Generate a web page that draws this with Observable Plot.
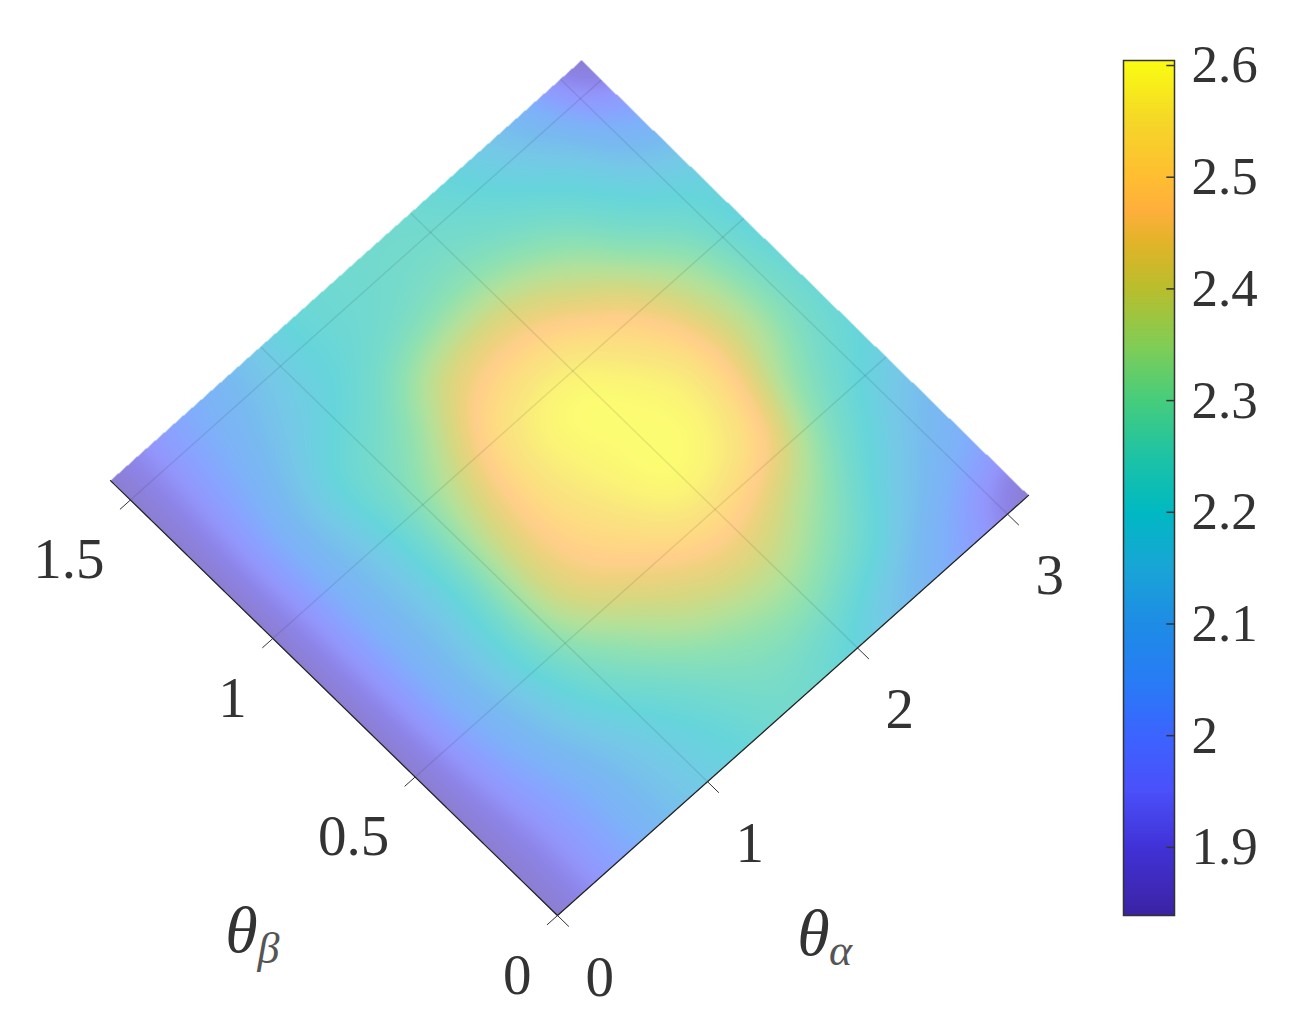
<!DOCTYPE html>
<html><head><meta charset="utf-8">
<style>html,body{margin:0;background:#fff}#c{position:relative;width:1304px;height:1032px;overflow:hidden}#c>svg,#c>div{position:absolute;top:0}svg text{font-family:"Liberation Serif",serif}</style>
<script src="https://cdn.jsdelivr.net/npm/d3@7"></script>
<script src="https://cdn.jsdelivr.net/npm/@observablehq/plot@0.6"></script>
</head><body><div id="c"></div>
<script>
// heat values, one row per theta_beta step (pi/16), one column per theta_alpha step (pi/8)
const row0=[1.86,2.00,2.12,2.19,2.24,2.20,2.11,2.00,1.86];
const row1=[1.86,2.00,2.13,2.22,2.29,2.31,2.24,2.12,2.03];
const row2=[1.86,2.03,2.18,2.30,2.40,2.44,2.36,2.22,2.12];
const row3=[1.86,2.05,2.21,2.40,2.50,2.58,2.52,2.30,2.20];
const row4=[1.86,2.05,2.20,2.41,2.55,2.60,2.56,2.37,2.22];
const row5=[1.86,2.05,2.20,2.37,2.54,2.58,2.49,2.34,2.20];
const row6=[1.86,2.05,2.20,2.28,2.42,2.44,2.36,2.24,2.17];
const row7=[1.86,2.02,2.14,2.21,2.26,2.28,2.24,2.16,2.03];
const row8=[1.86,2.00,2.10,2.20,2.23,2.23,2.18,2.07,1.86];
const heatRows=[row0,row1,row2,row3,row4,row5,row6,row7,row8];
const alphaMax=3.14, betaMax=1.57;
const alphaTicks=[0,1,2,3], betaTicks=[0,0.5,1,1.5];
const alphaGrid=[1,2,3], betaGrid=[0.5,1,1.5];
const colorValues=[1.84,1.9,1.95,2.0,2.05,2.1,2.15,2.2,2.25,2.3,2.35,2.4,2.44,2.47,2.5,2.55,2.6];
const colorStops=["#3c23a5","#4132d7","#4b50fa","#3c64ff","#287df5","#1e8ce6","#19a5d7","#00b9c3","#1ec3a5","#46cd7d","#82cd55","#b9be2d","#e1b428","#ffaf3c","#ffbe32","#f5d728","#fafa14"];
const barTicks=[1.9,2,2.1,2.2,2.3,2.4,2.5,2.6];

// oblique view of the (theta_alpha, theta_beta) plane
const view={x0:557,y0:915,xa:150,ya:-133.8,xb:-284.7,yb:-277};
const px=(a,b)=>view.x0+view.xa*a+view.xb*b;
const py=(a,b)=>view.y0+view.ya*a+view.yb*b;
const det=view.xa*view.yb-view.xb*view.ya;
const cr=(p0,p1,p2,p3,t)=>0.5*(2*p1+(p2-p0)*t+(2*p0-5*p1+4*p2-p3)*t*t+(3*p1-p0-3*p2+p3)*t*t*t);
const nA=row0.length-1,nB=heatRows.length-1;
const at=(i,j)=>heatRows[Math.max(0,Math.min(nB,j))][Math.max(0,Math.min(nA,i))];
function heat(x,y){
  const dx=x-view.x0,dy=y-view.y0;
  const a=(dx*view.yb-dy*view.xb)/det,b=(dy*view.xa-dx*view.ya)/det;
  if(a<0||b<0||a>alphaMax||b>betaMax) return NaN;
  const u=a/alphaMax*nA,v=b/betaMax*nB;
  const i=Math.min(nA-1,Math.floor(u)),j=Math.min(nB-1,Math.floor(v)),s=u-i,t=v-j;
  const r=[-1,0,1,2].map(k=>cr(at(i-1,j+k),at(i,j+k),at(i+1,j+k),at(i+2,j+k),s));
  return cr(r[0],r[1],r[2],r[3],t);
}
const color={type:"linear",domain:colorValues,range:colorStops,clamp:true};
const serif="Liberation Serif";

const main=Plot.plot({width:1304,height:1032,margin:0,axis:null,
  x:{domain:[0,1304],range:[0,1304]},y:{domain:[0,1032],range:[0,1032]},color,
  marks:[
    Plot.raster({x1:100,x2:1040,y1:50,y2:925,pixelSize:1,fill:heat,fillOpacity:0.6,imageRendering:"auto"}),
    Plot.link(alphaGrid,{x1:a=>px(a,0),y1:a=>py(a,0),x2:a=>px(a,betaMax),y2:a=>py(a,betaMax),stroke:"#000",strokeOpacity:0.09,strokeWidth:1.5}),
    Plot.link(betaGrid,{x1:b=>px(0,b),y1:b=>py(0,b),x2:b=>px(alphaMax,b),y2:b=>py(alphaMax,b),stroke:"#000",strokeOpacity:0.09,strokeWidth:1.5}),
    Plot.line([[alphaMax,0],[0,0],[0,betaMax]],{x:d=>px(d[0],d[1]),y:d=>py(d[0],d[1]),stroke:"#222",strokeWidth:1.3}),
    Plot.link(alphaTicks,{x1:a=>px(a,0),y1:a=>py(a,0),x2:a=>px(a,-0.04),y2:a=>py(a,-0.04),stroke:"#333",strokeWidth:1}),
    Plot.link(betaTicks,{x1:b=>px(0,b),y1:b=>py(0,b),x2:b=>px(-0.07,b),y2:b=>py(-0.07,b),stroke:"#333",strokeWidth:1}),
    Plot.text(alphaTicks,{x:a=>px(a,0),y:a=>py(a,0),text:a=>String(a),dx:28,dy:62,textAnchor:"start",lineAnchor:"middle",fontSize:57,fill:"#333",fontFamily:serif}),
    Plot.text(betaTicks,{x:b=>px(0,b),y:b=>py(0,b),text:b=>String(b),dx:-26,dy:60,textAnchor:"end",lineAnchor:"middle",fontSize:57,fill:"#333",fontFamily:serif}),
    Plot.text(["θ"],{x:241,y:930,text:d=>d,fontSize:66,fontStyle:"italic",fill:"#333",fontFamily:serif,lineAnchor:"middle"}),
    Plot.text(["β"],{x:268,y:948,text:d=>d,fontSize:44,fontStyle:"italic",fill:"#555",fontFamily:serif,lineAnchor:"middle"}),
    Plot.text(["θ"],{x:813,y:933,text:d=>d,fontSize:66,fontStyle:"italic",fill:"#333",fontFamily:serif,lineAnchor:"middle"}),
    Plot.text(["α"],{x:840,y:950,text:d=>d,fontSize:44,fontStyle:"italic",fill:"#555",fontFamily:serif,lineAnchor:"middle"})
  ]});
main.setAttribute("style","left:0;background:transparent");
document.getElementById("c").append(main);

const bar=Plot.plot({width:204,height:1032,marginLeft:23,marginRight:130,marginTop:60,marginBottom:117,
  x:{domain:[0,1],axis:null},y:{domain:[1.839,2.6045]},color,
  marks:[
    Plot.raster({x1:0,x2:1,y1:1.839,y2:2.6045,width:1,height:300,fill:(x,y)=>y}),
    Plot.link(barTicks,{x1:0.84,x2:1,y1:d=>d,y2:d=>d,stroke:"#333",strokeWidth:1.5}),
    Plot.frame({stroke:"#333",strokeWidth:1.5}),
    Plot.axisY(barTicks,{anchor:"right",tickSize:0,tickPadding:17,tickFormat:d=>String(d),label:null,fontSize:53,fill:"#333",fontFamily:serif})
  ]});
bar.setAttribute("style","left:1100px;background:transparent");
document.getElementById("c").append(bar);
</script></body></html>
